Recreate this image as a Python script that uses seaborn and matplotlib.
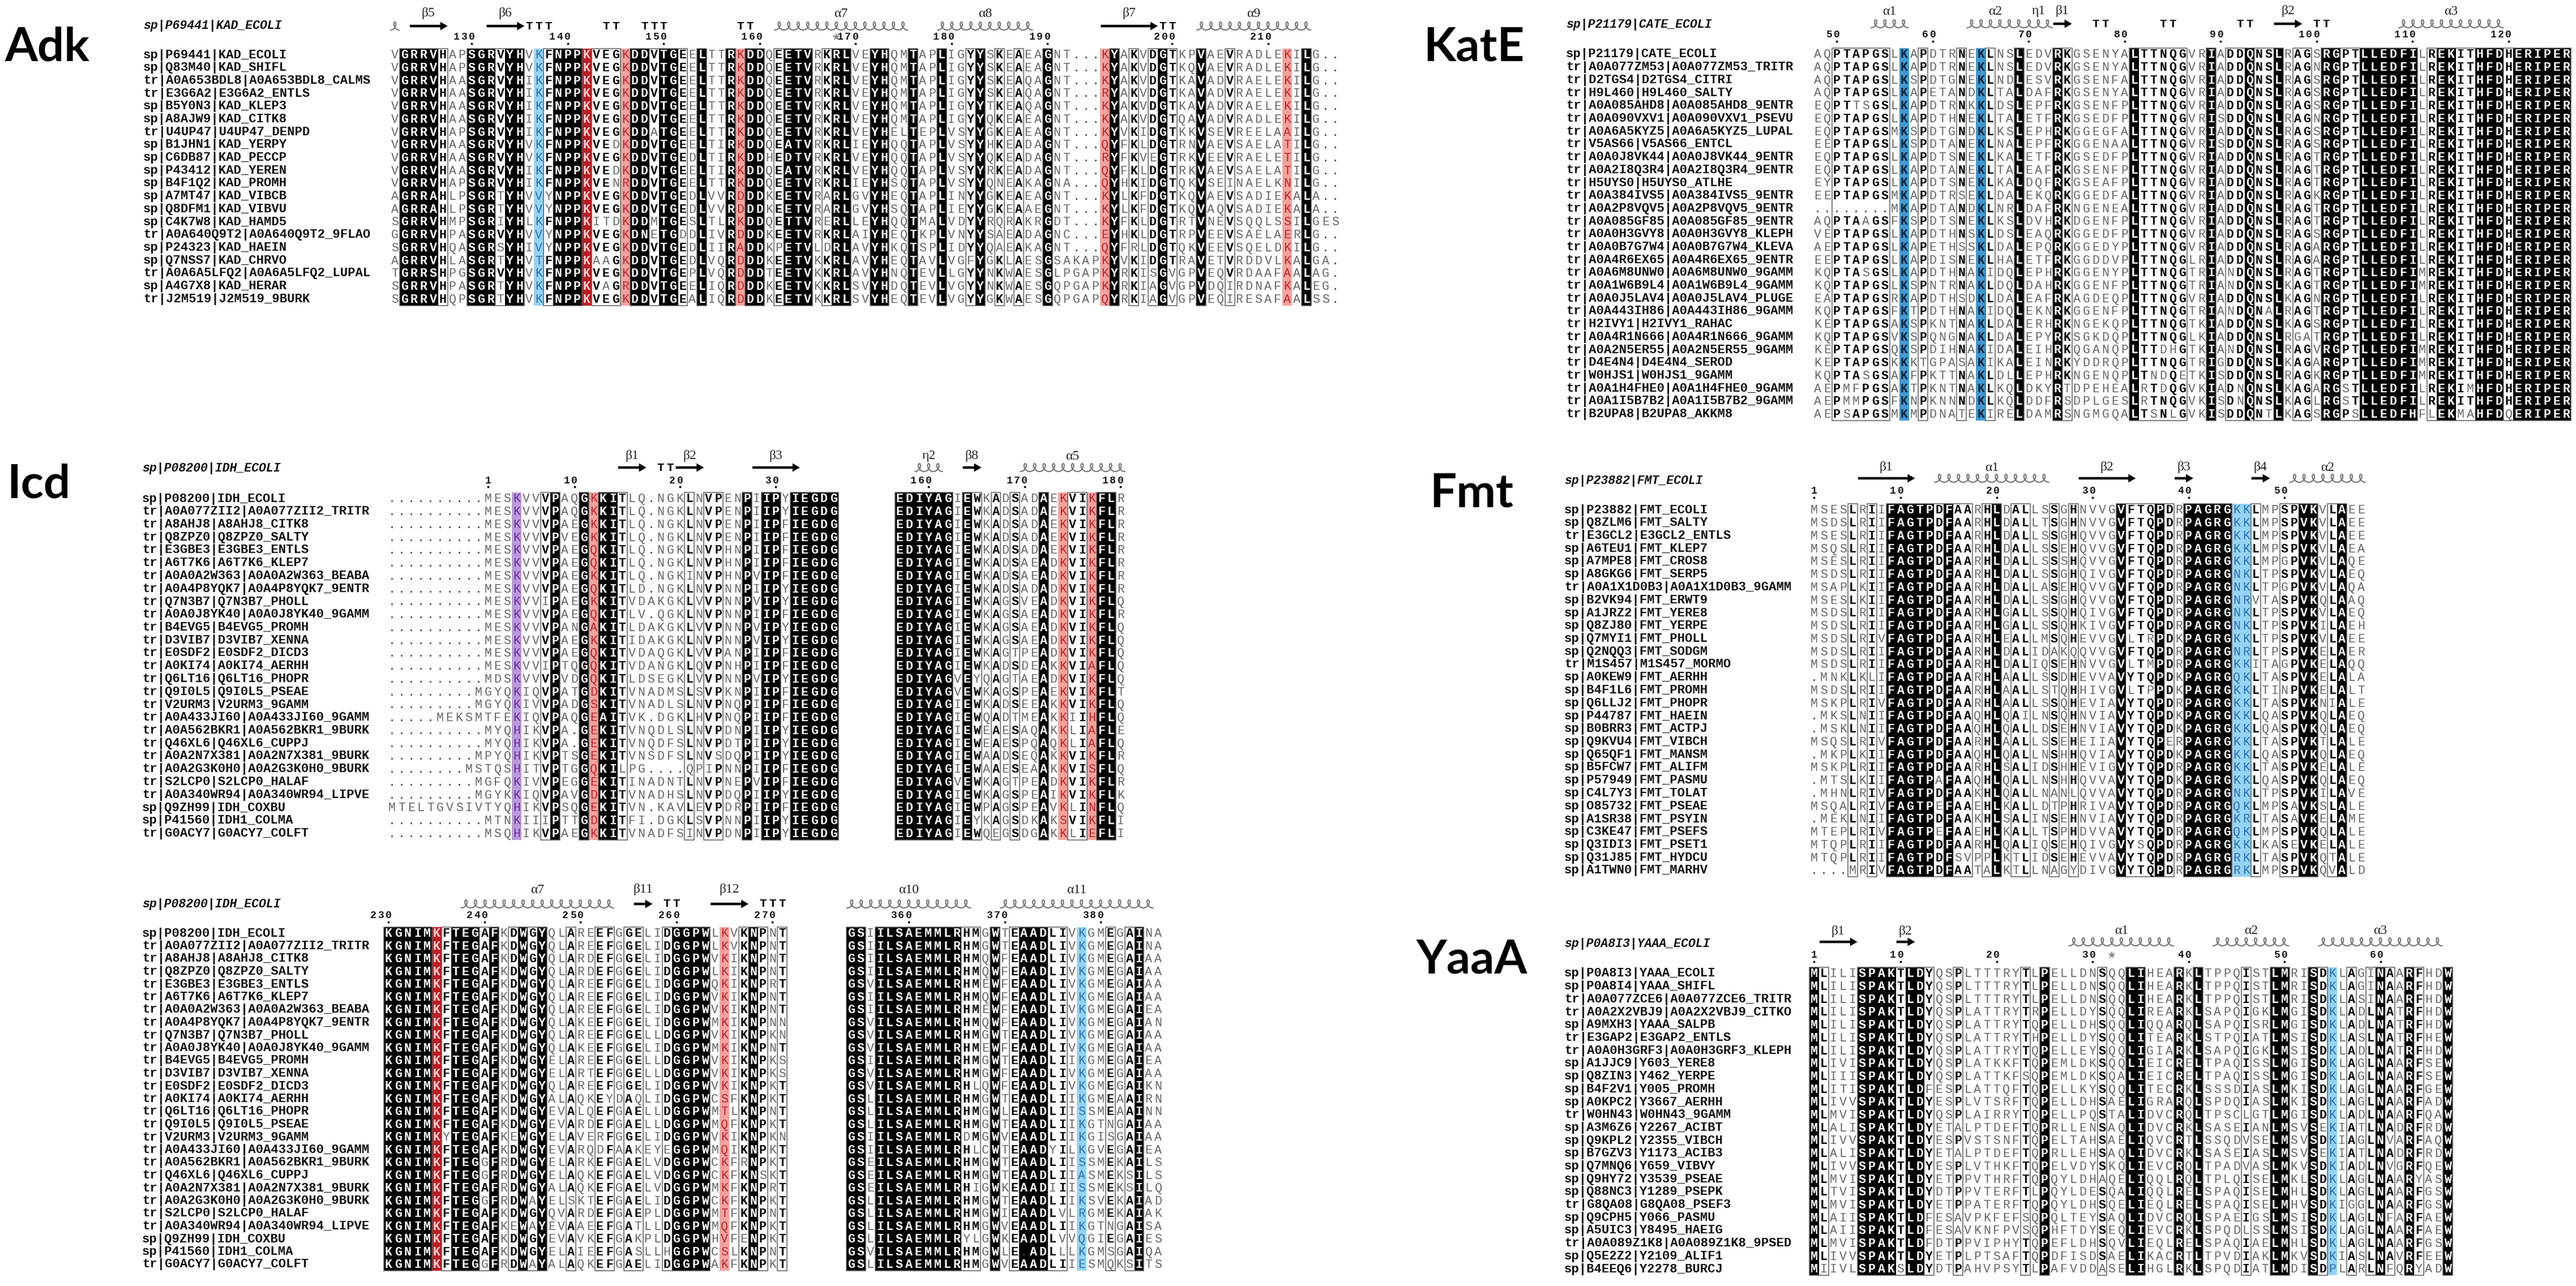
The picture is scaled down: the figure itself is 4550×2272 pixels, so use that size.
import numpy as np
import pandas as pd
import matplotlib
matplotlib.use("Agg")
import matplotlib.pyplot as plt
import seaborn as sns
from matplotlib.colors import ListedColormap
from matplotlib.patches import Rectangle, FancyArrow
from collections import Counter

# =========================== DATA ===========================
# ---- Adk ----
ADK_NAMES = ["sp|P69441|KAD_ECOLI", "sp|Q83M40|KAD_SHIFL", "tr|A0A653BDL8|A0A653BDL8_CALMS",
             "tr|E3G6A2|E3G6A2_ENTLS", "sp|B5Y0N3|KAD_KLEP3", "sp|A8AJW9|KAD_CITK8",
             "tr|U4UP47|U4UP47_DENPD", "sp|B1JHN1|KAD_YERPY", "sp|C6DB87|KAD_PECCP",
             "sp|P43412|KAD_YEREN", "sp|B4F1Q2|KAD_PROMH", "sp|A7MT47|KAD_VIBCB",
             "sp|Q8DFM1|KAD_VIBVU", "sp|C4K7W8|KAD_HAMD5", "tr|A0A640Q9T2|A0A640Q9T2_9FLAO",
             "sp|P24323|KAD_HAEIN", "sp|Q7NSS7|KAD_CHRVO", "tr|A0A6A5LFQ2|A0A6A5LFQ2_LUPAL",
             "sp|A4G7X8|KAD_HERAR", "tr|J2M519|J2M519_9BURK"]
ADK_SEQ_A = ["VGRRVHAPSGRVYHVKFNPPKVEGKDD", "VGRRVHAPSGRVYHVKFNPPKVEGKDD", "VGRRVHAASGRVYHIKFNPPKVEGKDD",
             "VGRRVHAASGRVYHIKFNPPKVEGKDD", "VGRRVHAASGRVYHIKFNPPKVEGKDD", "VGRRVHAASGRVYHIKFNPPKVEGKDD",
             "VGRRVHAPSGRVYHIKFNPPKVEGKDD", "VGRRVHAASGRVYHVKFNPPKVEDKDD", "VGRRVHAASGRVYHVKFNPPKVEGKDD",
             "VGRRVHAASGRVYHIKFNPPKVEDKDD", "VGRRVHAPSGRVYHIKFNPPKVENRDD", "AGRRAHLPSGRTYHVVYNPPKVEGKDD",
             "AGRRAHLPSGRTYHVVYNPPKVEGKDD", "SGRRVHMPSGRIYHLKFNPPKITDKDD", "GGRRVHPASGRVYHVVYNPPKVEGKDN",
             "SGRRVHQASGRSYHIVYNPPKVEGKDD", "AGRRVHLASGRTYHVTFNPPKAAGKDD", "TGRRSHPGSGRVYHVKFNPPKVEGKDD",
             "SGRRVHPASGRTYHVKFNPPKVAGRDD", "SGRRVHQPSGRTYHVKFNPPKVEGKDD"]
ADK_SEQ_B = ["VTGEELTTRKDDQEETVRKRLVEYHQMTAPLIGYYSKEAEAGNT...KYAKVDGTKPVAEVRADL",
             "VTGEELTTRKDDQEETVRKRLVEYHQMTAPLIGYYSKEAEAGNT...KYAKVDGTKQVAEVRADL",
             "VTGEELTTRKDDQEETVRKRLVEYHQMTAPLIGYYSKEAQAGNT...KYAKVDGTKAVADVRAEL",
             "VTGEELTTRKDDQEETVRKRLVEYHQMTAPLIGYYSKEAQAGNT...RYAKVDGTKAVADVRAEL",
             "VTGEELTTRKDDQEETVRKRLVEYHQMTAPLIGYYTKEAQAGNT...KYAKVDGTKAVADVRAEL",
             "VTGEELTTRKDDQEETVRKRLVEYHQMTAPLIGYYQKEAEAGNT...KYAKVDGTQAVADVRADL",
             "ATGEELTTRKDDQEETVRKRLVEYHELTEPLVSYYGKEAEAGNT...KYVKIDGTKKVSEVREEL",
             "VTGEELTIRKDDQEATVRKRLIEYHQQTAPLVSYYHKEADAGNT...QYFKLDGTRNVAEVSAEL",
             "VTGEDLTIRKDDHEDTVRKRLVEYHQQTAPLVSYYQKEADAGNT...RYFKVEGTRKVEEVRAEL",
             "VTGEELTIRKDDQEATVRKRLVEYHQQTAPLVSYYRKEADAGNT...QYFKLDGTRKVAEVSAEL",
             "VTGEELTTRKDDQEETVRKRLIEYHSQTAPLVSYYQNEAKAGNA...QYHKIDGTQKVSEINAEL",
             "VTGEDLVVRDDDKEETVRARLGVYHEQTAPLINYYGKEAEAGNT...KYLKFDGTKQVAEVSADI",
             "VTGEDLVVRDDDKEETVRARLGVYHSQTAPLIEYYGKEAAEGNT...KYLKFDGTKQVAQVSADI",
             "MTGESLTLRKDDQETTVRERLLEYHQQTMALVDYYRQRAKRGDT...KYFKLDGTRTVNEVSQQL",
             "ETGDDLIVRDDDKEETVRKRLAIYHEQTKPLVNYYSAEADAGNC...EYHKLDGTRPVEEVSAEL",
             "VTGEDLIIRADDKPETVLDRLAVYHKQTSPLIDYYQAEAKAGNT...QYFRLDGTQKVEEVSQEL",
             "VTGEDLVQRDDDKEETVKKRLAVYHEQTAVLVGFYGKLAESGSAKAPKYVKIDGTRAVETVRDDV",
             "VTGEPLVQRDDDTEETVKKRLAVYHNQTEVLLGYYNKWAESGLPGAPKYRKISGVGPVEQVRDAA",
             "VTGEELIQRDDDKEETVKKRLSVYHDQTEVLVGYYNKWAESGQPGAPKYRKIAGVGPVDQIRDNA",
             "VTGEALIQRDDDKEETVKKRLSVYHEQTEVLVGYYGKWAESGQPGAPQYRKIAGVGPVEQIRESA"]
ADK_SEQ_C = ["EKILG..", "EKILG..", "EKILG..", "EKILG..", "EKILG..", "EKILG..", "AAILG..",
             "ATILG..", "ETILG..", "ATILG..", "KNILG..", "EKALA..", "EKALA..", "SSILGES",
             "AERLG..", "DKILG..", "LKALGA.", "FAALAG.", "FKALEG.", "FAALSS."]
ADK_CLASS = ("n" "KKKK" "b" "nn" "KKK" "b" "KK" "n" "c" "b" "KKK" "R" "bbb" "r" "KK" "b" "KK" "b" "n"
             "K" "nn" "K" "r" "KK" "n" "b" "KKK" "n" "b" "KK" "nn" "KK" "nn" "K" "nn" "K" "nn" "b" "K"
             "n" "b" "n" "b" "nn" "K" "nnnnn" "r" "K" "n" "b" "n" "b" "K" "b" "nn" "K" "nn" "b"
             "nnnnn" "r" "n" "K" "nnn")
ADK_START = 122
ADK_SS = [("H", 0, 0, ""), ("E", 2, 5, "β5"), ("E", 10, 13, "β6"), ("T", 14, 16, ""),
          ("T", 22, 23, ""), ("T", 26, 28, ""), ("T", 36, 37, ""), ("H", 40, 53, "α7"),
          ("H", 57, 66, "α8"), ("E", 74, 79, "β7"), ("T", 80, 81, ""), ("H", 84, 95, "α9")]
ADK_STARS = [46]

# ---- KatE ----
KATE_NAMES = ["sp|P21179|CATE_ECOLI", "tr|A0A077ZM53|A0A077ZM53_TRITR", "tr|D2TGS4|D2TGS4_CITRI",
              "tr|H9L460|H9L460_SALTY", "tr|A0A085AHD8|A0A085AHD8_9ENTR", "tr|A0A090VXV1|A0A090VXV1_PSEVU",
              "tr|A0A6A5KYZ5|A0A6A5KYZ5_LUPAL", "tr|V5AS66|V5AS66_ENTCL", "tr|A0A0J8VK44|A0A0J8VK44_9ENTR",
              "tr|A0A2I8Q3R4|A0A2I8Q3R4_9ENTR", "tr|H5UYS0|H5UYS0_ATLHE", "tr|A0A384IVS5|A0A384IVS5_9ENTR",
              "tr|A0A2P8VQV5|A0A2P8VQV5_9ENTR", "tr|A0A085GF85|A0A085GF85_9ENTR", "tr|A0A0H3GVY8|A0A0H3GVY8_KLEPH",
              "tr|A0A0B7G7W4|A0A0B7G7W4_KLEVA", "tr|A0A4R6EX65|A0A4R6EX65_9ENTR", "tr|A0A6M8UNW0|A0A6M8UNW0_9GAMM",
              "tr|A0A1W6B9L4|A0A1W6B9L4_9GAMM", "tr|A0A0J5LAV4|A0A0J5LAV4_PLUGE", "tr|A0A443IH86|A0A443IH86_9GAMM",
              "tr|H2IVY1|H2IVY1_RAHAC", "tr|A0A4R1N666|A0A4R1N666_9GAMM", "tr|A0A2N5ER55|A0A2N5ER55_9GAMM",
              "tr|D4E4N4|D4E4N4_SEROD", "tr|W0HJS1|W0HJS1_9GAMM", "tr|A0A1H4FHE0|A0A1H4FHE0_9GAMM",
              "tr|A0A1I5B7B2|A0A1I5B7B2_9GAMM", "tr|B2UPA8|B2UPA8_AKKM8"]
KATE_SEQ = [
    "AQPTAPGSLKAPDTRNEKLNSLEDVRKGSENYALTTNQGVRIADDQNSLRAGSRGPTLLEDFILREKITHFDHERIPER",
    "AQPTAPGSLKAPDTRNEKLNSLEDVRKGSENYALTTNQGVRIADDQNSLRAGNRGPTLLEDFILREKITHFDHERIPER",
    "AQPTAPGSLKSPDTGNEKLNDLESVRKGSENFALTTNQGVRIADDQNSLRAGSRGPTLLEDFILREKITHFDHERIPER",
    "AQPTAPGSLKAPETANDKLTALDAFRKGSENYALTTNQGVRIADDQNSLRAGSRGPTLLEDFILREKITHFDHERIPER",
    "EQPTTSGSLKAPDTRNKKLDSLEPFRKGSENFPLTTNQGVRIADDQNSLRAGSRGPTLLEDFILREKITHFDHERIPER",
    "EQPTAPGSLKAPDTHNEKLTALETFRKGSEDFPLTTNQGVRISDDQNSLRAGNRGPTLLEDFILREKITHFDHERIPER",
    "EQPTAPGSMKSPDTGNDKLKSLEPHRKGGEGFALTTNQGVRIADDQNSLRAGSRGPTLLEDFILREKITHFDHERIPER",
    "EEPTAPGSLKSPDTANEKLNALEPFRKGGENAALTTNQGVRISDDQNSLRAGSRGPTLLEDFILREKITHFDHERIPER",
    "EQPTAPGSLKAPDTSNEKLKALETFRKGSEDFPLTTNQGVRIADDQNSLRAGTRGPTLLEDFILREKITHFDHERIPER",
    "EQPTAPGSLKAPDTANEKLTALEAFRKGSENFPLTTNQGVRIADDQNSLRAGTRGPTLLEDFILREKITHFDHERIPER",
    "EYPTAPGSLKAPDTSNEKLKALDQFRKGSEAFPLTTNQGVRIADDQNSLRAGTRGPTLLEDFILREKITHFDHERIPER",
    "EEPTAPGSMKAPDTRSEKLDALEKQRKGGEDFALTTNQGVRIADDQNSLRAGKRGPTLLEDFILREKITHFDHERIPER",
    "........MKAPDTANDKLNRLDAFRKNGENEALTTNQGVRIADDQNSLRAGTRGPTLLEDFILREKITHFDHERIPER",
    "AQPTAAGSFKSPDTSNEKLKSLDVHRKDGENFPLTTNQGVRIADDQNSLRAGTRGPTLLEDFILREKITHFDHERIPER",
    "VEPTAPGSLKAPDTHNSKLDSLEAQRKGGEDFPLTTNQGVRIADDQNSLRAGSRGPTLLEDFILREKITHFDHERIPER",
    "AEPTAPGSLKAPETHSSKLDALEPQRKGGEDYPLTTNQGVRIADDQNSLRAGARGPTLLEDFILREKITHFDHERIPER",
    "EEPTAPGSLKAPDISNEKLHALETFRKGGDDVPLTTNQGLRIADDQNSLRAGARGPTLLEDFILREKITHFDHERIPER",
    "KQPTASGSLKAPDTHNAKIDQLEPHRKGGENYPLTTNQGTRIANDQNSLRAGTRGPTLLEDFIMREKITHFDHERIPER",
    "KQPTAPGSLKSPNTRNAKLDQLDAHRKGGENFPLTTNQGTRIANDQNSLKAGTRGPTLLEDFIMREKITHFDHERIPER",
    "EAPTAPGSRKAPDTHSDKLDALEAFRKAGDEQPLTTNQGVRIADDQNSLKAGNRGPTLLEDFILREKITHFDHERIPER",
    "KQPTAPGSFKTPDTHNAKIDQLEKNRKGGENFPLTTNQGTRIANDQNALRAGTRGPTLLEDFILREKITHFDHERIPER",
    "KEPTAPGSAKSPKNTNAKLDALERHRKNGEKQPLTTNQGTKIADDQNSLKAGSRGPTLLEDFILREKITHFDHERIPER",
    "KQPTAPGSVKSPQNGNAKLDALEPYRKSGKDQPLTTNQGLKIADDQNSLRGATRGPTLLEDFILREKITHFDHERIPER",
    "KEPTAPGSQKSPDIHNAKIDALEIHRKQGANQPLTTDHGTKIANDQNSLRAGVRGPTLLEDFIMREKITHFDHERIPER",
    "KEPTAPGSKKKTGPASAKIKALEINRKYDDRQPLTTNQGTRIGDDQNSLKAGARGPTLLEDFIMREKITHFDHERIPER",
    "KQPTASGSAKFPKTTNAKLDLLEPHRKNGENQPLTNDQETKISDDQNSLRAGKRGPTLLEDFIMREKITHFDHERIPER",
    "AEPMFPGSAKTPKNTNAKLKQLDKYRTDPEHEALRTDQGVKIADNQNSLKAGARGSTLLEDFILREKIMHFDHERIPER",
    "AEPMMPGSFKNPKNNNDKLKQLDDFRSDPLGESLRTNQGVKISDNQNSLKAGLRGSTLLEDFILREKITHFDHERIPER",
    "AEPSAPGSMKMPDNATEKIRELDAMRSNGMGQALTSNLGVKISDDQNTLKAGSRGPSLLEDFHFLEKMAHFDQERIPER"]
KATE_CLASS = ("nn" "bbbb" "bb" "n" "C" "n" "b" "nnn" "b" "n" "C" "b" "nn" "K" "nnn" "K" "b" "nnnnnn"
              "K" "bbbbb" "nn" "K" "n" "bb" "K" "bb" "K" "n" "bb" "n" "KK" "bb" "KKKKK" "K" "n" "b"
              "KK" "bb" "KKK" "b" "KKKKKK")
KATE_START = 48
KATE_SS = [("H", 6, 9, "α1"), ("H", 16, 21, "α2"), ("H", 22, 24, "η1"), ("E", 25, 26, "β1"),
           ("T", 29, 30, ""), ("T", 36, 37, ""), ("T", 44, 45, ""), ("E", 48, 50, "β2"),
           ("T", 52, 53, ""), ("H", 61, 71, "α3")]

# ---- Icd ----
ICD_NAMES = ["sp|P08200|IDH_ECOLI", "tr|A0A077ZII2|A0A077ZII2_TRITR", "tr|A8AHJ8|A8AHJ8_CITK8",
             "tr|Q8ZPZ0|Q8ZPZ0_SALTY", "tr|E3GBE3|E3GBE3_ENTLS", "tr|A6T7K6|A6T7K6_KLEP7",
             "tr|A0A0A2W363|A0A0A2W363_BEABA", "tr|A0A4P8YQK7|A0A4P8YQK7_9ENTR", "tr|Q7N3B7|Q7N3B7_PHOLL",
             "tr|A0A0J8YK40|A0A0J8YK40_9GAMM", "tr|B4EVG5|B4EVG5_PROMH", "tr|D3VIB7|D3VIB7_XENNA",
             "tr|E0SDF2|E0SDF2_DICD3", "tr|A0KI74|A0KI74_AERHH", "tr|Q6LT16|Q6LT16_PHOPR",
             "tr|Q9I0L5|Q9I0L5_PSEAE", "tr|V2URM3|V2URM3_9GAMM", "tr|A0A433JI60|A0A433JI60_9GAMM",
             "tr|A0A562BKR1|A0A562BKR1_9BURK", "tr|Q46XL6|Q46XL6_CUPPJ", "tr|A0A2N7X381|A0A2N7X381_9BURK",
             "tr|A0A2G3K0H0|A0A2G3K0H0_9BURK", "tr|S2LCP0|S2LCP0_HALAF", "tr|A0A340WR94|A0A340WR94_LIPVE",
             "sp|Q9ZH99|IDH_COXBU", "sp|P41560|IDH1_COLMA", "tr|G0ACY7|G0ACY7_COLFT"]
ICD_T1_SEQ = [
    "..........MESKVVVPAQGKKITLQ.NGKLNVPENPIIPYIEGDG",
    "..........MESKVVVPAQGKKITLQ.NGKLNVPENPIIPYIEGDG",
    "..........MESKVVVPAEGKKITLQ.NGKLNVPENPIIPFIEGDG",
    "..........MESKVVVPVEGKKITLQ.NGKLNVPENPIIPFIEGDG",
    "..........MESKVVVPAEGQKITLQ.NGKLNVPHNPIIPFIEGDG",
    "..........MESKVVVPAEGQKITLQ.NGKLNVPHNPIIPFIEGDG",
    "..........MESKVVVPAEGKKITLQ.NGKINVPHNPVIPFIEGDG",
    "..........MESKVVVPAEGQKITLD.NGKLNVPNNPIIPYIEGDG",
    "..........MESKVVIPAEGKKITVDAKGKLVVPNNPVIPYIEGDG",
    "..........MESKVVVPAEGQKITLV.QGKLNVPNNPIIPFIEGDG",
    "..........MESKVVVPANGAKITLDAKGKLVVPNNPVIPYIEGDG",
    "..........MESKVVVPAEGKKITIDAKGKLNVPNNPVIPYIEGDG",
    "..........MESKVVVPAEGQKITVDAQGKLVVPANPIIPFIEGDG",
    "..........MESKVVIPTQGQKITVDANGKLQVPNHPIIPFIEGDG",
    "..........MDSKVVVPVDGQKITLDSEGKLVVPNNPVIPYIEGDG",
    ".........MGYQKIQVPATGDKITVNADMSLSVPKNPIIPFIEGDG",
    ".........MGYQKIVVPADGSKITVNADLSLNVPNQPIIPFIEGDG",
    ".....MEKSMTFEKIQVPAQGEAITVK.DGKLHVPNQPIIPFIEGDG",
    "..........MYQHIKVPA.GEKITVNQDLSLNVPDNPIIPYIEGDG",
    "..........MYQHIKVPA.GEKITVNQDFSLNVPDTPIIPYIEGDG",
    ".........MPYQHIKVPTSGEKITVNSDFSLNVSDQPIIPYIEGDG",
    "........MSTQSHITVPTGGQKILPG....QPIPNNPIIPFIEGDG",
    ".........MGFQKIVVPEGGEKITINADNTLNVPNEPVIPFIEGDG",
    ".........MGYKKIQVPAVGDKITVNADHSLNVPDQPIIPYIEGDG",
    "MTELTGVSIVTYQHIKVPSQGEKITVN.KAVLEVPDRPIIPFIEGDG",
    "..........MTNKIIIPTTGDKITFI.DGKLSVPNNPIIPYIEGDG",
    "..........MSQHIKVPAEGKKITVNADFSINVPDNPIIPYIEGDG"]
ICD_T1_CLASS = ("nnnnnnnnnnnnn" "p" "nnb" "K" "nn" "K" "r" "KK" "b" "nnnnnn" "b" "n" "bb" "nn" "K" "n"
                "KK" "n" "KKKKK")
ICD_T1_START = 1
ICD_T1_SS = [("E", 24, 26, "β1"), ("T", 28, 29, ""), ("E", 30, 32, "β2"), ("E", 38, 42, "β3")]
ICD_T2_SEQ = [
    "EDIYAGIEWKADSADAEKVIKFLR", "EDIYAGIEWKADSADAEKVIKFLR", "EDIYAGIEWKADSADAEKVIKFLR",
    "EDIYAGIEWKADSADAEKVIKFLR", "EDIYAGIEWKADSADAEKVIKFLR", "EDIYAGIEWKADSAEADKVIKFLR",
    "EDIYAGIEWKADSAEADKVIKFLR", "EDIYAGIEWKADSADADKVIKFLR", "EDIYAGIEWKAGSVEADKVIKFLQ",
    "EDIYAGIEWKAGSAEADKVIKFLR", "EDIYAGIEWKAGSAEADKVIKFLQ", "EDIYAGIEWKAGSAEADKVIKFLQ",
    "EDIYAGIEWKAGTPEADKVIKFLQ", "EDIYAGIEWKADSDEAKKVIAFLQ", "EDIYAGVEYQAGTAEADKVIKFLQ",
    "EDIYAGVEWKAGSPEAEKVIKFLT", "EDIYAGIEWKADSEEAKKVIKFLQ", "EDIYAGIEWQADTMEAKKIIHFLQ",
    "EDIYAGIEWEAESAQAKKLIAFLE", "EDIYAGIEWEAESPQAQKLIAFLQ", "EDIYAGIEWAADSEQAKKVIKFLR",
    "EDIYAGIEWAAESEAAKKVISFLQ", "EDIYAGVEWKAGTPEADKVIKFLR", "EDIYAGIEWKAGSPEAIKVIKFLK",
    "EDIYAGIEWPAGSPEAVKLINFLQ", "EDIYAGIEYKAGSDKAKSVIKFLI", "EDIYAGIEWQEGSDGAKKLIEFLI"]
ICD_T2_CLASS = "KKKKKK" "n" "K" "b" "n" "b" "n" "b" "nn" "K" "n" "r" "bb" "r" "KK" "n"
ICD_T2_START = 157
ICD_T2_SS = [("H", 2, 4, "η2"), ("E", 7, 8, "β8"), ("H", 13, 23, "α5")]

ICD_B1_SEQ_A = [
    "KGNIMKFTEGAFKDWGYQLAREEFGGEL", "KGNIMKFTEGAFKDWGYQLAREEFGGEL", "KGNIMKFTEGAFKDWGYQLARDEFGGEL",
    "KGNIMKFTEGAFKDWGYQLARDEFGGEL", "KGNIMKFTEGAFKDWGYQLAREEFGGEL", "KGNIMKFTEGAFKDWGYQLAREEFGGEL",
    "KGNIMKFTEGAFKDWGYQLAREEFGGEL", "KGNIMKFTEGAFKDWGYQLAKEEFGGEL", "KGNIMKFTEGAFKDWGYQLAREEFGGEL",
    "KGNIMKFTEGAFKDWGYQLAKEEFGGEL", "KGNIMKFTEGAFKDWGYELAREEFGGEL", "KGNIMKFTEGAFKDWGYELARTEFGGEL",
    "KGNIMKFTEGAFKDWGYQLAREEFGGEL", "KGNIMKFTEGAFKDWGYALAQKEYDAQL", "KGNIMKFTEGAFKDWGYEVALQEFGAEL",
    "KGNIMKFTEGAFKDWGYEVARDEFGAEL", "KGNIMKYTEGAFKEWGYELAVERFGGEL", "KGNIMKFTEGAFKDWGYEVARQDFAAKE",
    "KGNIMKFTEGGFRDWGYELARKEFGAEL", "KGNIMKFTEGGFRDWGYELAQKEFGAEL", "KGNIMKFTEGAFRDWGYALAQKEFGAEL",
    "KGNIMKFTEGGFRDWAYELSKTEFGAEL", "KGNIMKFTEGAFKDWGYQVARDEFGAEP", "KGNIMKFTEGAFKEWAYEVAAEEFGATL",
    "KGNIMKFTEGAFKDWGYEVAVKEFGAKP", "KGNIMKFTEGAFKDWGYELAIEEFGASL", "KGNIMKFTEGGFRDWAYALAQKEFGAEL"]
ICD_B1_SEQ_B = [
    "IDGGPWLKVKNPNT", "IDGGPWLKVKNPNT", "IDGGPWVKIKNPNT", "IDGGPWLKIKNPNT", "IDGGPWQKIKNPRT",
    "IDGGPWVKIKNPNT", "IDGGPWVKIKNPNT", "IDGGPWMKIKNPNN", "LDGGPWVKIKNPKN", "IDGGPWMKIKNPNT",
    "LDGGPWVKIKNPKS", "LDGGPWVKIKNPKS", "IDGGPWVKIKNPKT", "IDGGPWCSFKNPKT", "LDGGPWMTLKNPNT",
    "LDGGPWMQFKNPKT", "IDGGPWVKIKNPKN", "YEGGPWMQIKNPKT", "VDGGPWCKFRNPKT", "VDGGPWCKFKNSKT",
    "VDGGPWMKFKNPRT", "IDGGPWCKFKNPKT", "LDGGPWMTFKNPNT", "LDGGPWMQFKNPKT", "LDGGPWHVFENPKT",
    "LHGGPWCSLKNPNT", "IDGGPWAKFKNPKT"]
ICD_B1_CLASS = ("KKKKK" "R" "b" "KKK" "b" "K" "n" "b" "K" "b" "K" "nn" "b" "nn" "bb" "n" "bb" "nn" "b"
                "KKKK" "n" "r" "n" "b" "K" "b" "n" "b")
ICD_B1_START = 230
ICD_B1_SS = [("H", 8, 23, "α7"), ("E", 26, 27, "β11"), ("T", 29, 30, ""), ("E", 34, 37, "β12"),
             ("T", 39, 41, "")]
ICD_B2_SEQ = [
    "GSIILSAEMMLRHMGWTEAADLIVKGMEGAINA", "GSIILSAEMMLRHMGWTEAADLIVKGMEGAINA",
    "GSIILSAEMMLRHMQWFEAADLIVKGMEGAIAA", "GSIILSAEMMLRHMQWFEAADLIVKGMEGAIAA",
    "GSVILSAEMMLRHMEWFEAADLIVKGMEGAIAA", "GSIILSAEMMLRHMQWFEAADLIVKGMEGAIAA",
    "GSIILSAEMMLRHMEWFEAADLIVKGMEGAIEA", "GSVILSAEMMLRHMQWFEAADLIVKGMEGAIAN",
    "GSVILSAEMMLRHMGWTEAADLIVKGMEGAIAA", "GSVILSAEMMLRHMEWFEAADLIVKGMEGAIAA",
    "GSIILSAEMMLRHMGWTEAADLIIKGMEGAIEA", "GSVILSAEMMLRHMGWFEAADLIVKGMEGAIAA",
    "GSVILSAEMMLRHLQWFEAADLIVKGMEGAIKN", "GSLILSAEMMLRHMGWTEAADLIIKGMEAAIRN",
    "GSLILSAEMMLRHMGWLEAADLIISSMEAAINN", "GSLILSAEMMLRHMGWTEAADLIIKGTNGAIAA",
    "GSIILSAEMMLRDMGWVEAADLIIKGISGAIAA", "GSIILSAEMMLRHLCWTEAADYILKGVEGAIEA",
    "GSEILSAEMMLRHMGWTEAADLIISSMEKAILS", "GSEILSAEMMLRHMGWTEAADLIIASMEKSILS",
    "GSEILSAEMMLRHIGWKEAADIIISSMEKSILQ", "GSLILSAEMMLRHMGWTEAADLIIKSVEKAIAD",
    "GSLILSAEMMLRHMGWIEAADLVLRGMEKAIAK", "GSLILSAEMMLRHMGWVEAADLIIKGTNGAISA",
    "GSLILSAEMMLRYLGWKEAADLVVQGIEGAIES", "GSVILSAEMMLRHMGWLE.ADLLLKGMSGAIQA",
    "GSLILSAEMMLRHMGWVEAADLIIESMQKSITS"]
ICD_B2_CLASS = "KK" "n" "KKKKKKKKK" "bb" "n" "K" "n" "b" "KKK" "bb" "n" "c" "nn" "b" "n" "b" "K" "nn"
ICD_B2_START = 354
ICD_B2_SS = [("H", 0, 12, "α10"), ("H", 16, 31, "α11")]

# ---- Fmt ----
FMT_NAMES = ["sp|P23882|FMT_ECOLI", "sp|Q8ZLM6|FMT_SALTY", "tr|E3GCL2|E3GCL2_ENTLS", "sp|A6TEU1|FMT_KLEP7",
             "sp|A7MPE8|FMT_CROS8", "sp|A8GKG6|FMT_SERP5", "tr|A0A1X1D0B3|A0A1X1D0B3_9GAMM",
             "sp|B2VK94|FMT_ERWT9", "sp|A1JRZ2|FMT_YERE8", "sp|Q8ZJ80|FMT_YERPE", "sp|Q7MYI1|FMT_PHOLL",
             "sp|Q2NQQ3|FMT_SODGM", "tr|M1S457|M1S457_MORMO", "sp|A0KEW9|FMT_AERHH", "sp|B4F1L6|FMT_PROMH",
             "sp|Q6LLJ2|FMT_PHOPR", "sp|P44787|FMT_HAEIN", "sp|B0BRR3|FMT_ACTPJ", "sp|Q9KVU4|FMT_VIBCH",
             "sp|Q65QF1|FMT_MANSM", "sp|B5FCW7|FMT_ALIFM", "sp|P57949|FMT_PASMU", "sp|C4L7Y3|FMT_TOLAT",
             "sp|O85732|FMT_PSEAE", "sp|A1SR38|FMT_PSYIN", "sp|C3KE47|FMT_PSEFS", "sp|Q3IDI3|FMT_PSET1",
             "sp|Q31J85|FMT_HYDCU", "sp|A1TWN0|FMT_MARHV"]
FMT_SEQ = [
    "MSESLRIIFAGTPDFAARHLDALLSSGHNVVGVFTQPDRPAGRGKKLMPSPVKVLAEE",
    "MSDSLRIIFAGTPDFAARHLDALLTSGHNVVGVFTQPDRPAGRGKKLMPSPVKVLAEE",
    "MSESLRIIFAGTPDFAARHLDALLSSGHQVVGVFTQPDRPAGRGKKLMPSPVKVLAEE",
    "MSQSLRIIFAGTPDFAARHLDALLSSEHQVVGVFTQPDRPAGRGKKLMPSPVKVLAEA",
    "MSESLRIIFAGTPDFAARHLDALLSSSHQVVGVFTQPDRPAGRGKKLMPGPVKVLAQE",
    "MSDSLRIIFAGTPDFAARHLDALLSSGHQIVGVFTQPDRPAGRGNKLTPSPVKVLAEQ",
    "MSAPLKIIFAGTPDFAARHLDALLASEHQVVGVFTQPDRPAGRGNKLTPGPVKVLAQA",
    "MSESLKIIFAGTPDFAARHLDALLSSGHQVVGVFTQPDRPAGRGNRVTASPVKQLAAQ",
    "MSDSLRIIFAGTPDFAARHLGALLSSQHQIVGVFTQPDRPAGRGNKLTPSPVKVLAEQ",
    "MSDSLRIIFAGTPDFAARHLGALLSSQHKIVGVFTQPDRPAGRGNKLTPSPVKILAEH",
    "MSDSLRIVFAGTPDFAARHLEALLMSQHEVVGVLTRPDKPAGRGKKLTPSPVKVLAEE",
    "MSDSLRIIFAGTPDFAARHLDALIDAKQQVVGVFTQPDRPAGRGNRLTPSPVKELAER",
    "MSDSLRIIFAGTPDFAARHLDALIQSEHNVVGVLTMPDRPAGRGKKITAGPVKELAQQ",
    ".MNKLKLIFAGTPDFAARHLAALLSSDHEVVAVYTQPDKPAGRGQKLTASPVKELALA",
    "MSDSLRIIFAGTPDFAARHLAALLSTQHHIVGVLTPPDKPAGRGKKLTINPVKELALT",
    "MSKPLRIVFAGTPDFAARHLAALLSSQHEVIAVYTQPDRPAGRGKKLTASPVKNIALE",
    ".MKSLNIIFAGTPDFAAQHLQAILNSQHNVIAVYTQPDKPAGRGKKLQASPVKQLAEQ",
    ".MSKLNIIFAGTPDFAAQHLQALLDSEHNVIAVYTQPDKPAGRGKKLQASPVKQLAEQ",
    "MSQSLRIVFAGTPDFAARHLAALLSSEHEIIAVYTQPERPAGRGKKLTASPVKTLALE",
    ".MKPLKIIFAGTPDFAAQHLQALLNSHHQVIAVYTQPDKPAGRGKKLQASPVKQLAEQ",
    "MSKPLRIIFAGTPDFAARHLSALIDSHHEVIGVYTQPDRPAGRGKKLTASPVKELALE",
    ".MTSLKIIFAGTPAFAAQHLQALLNSHHQVVAVYTQPDKPAGRGKKLQASPVKQLAEQ",
    ".MHNLRIVFAGTPDFAAKHLQALLNANLQVVAVYTQPDRPAGRGNKLTPSPVKILAVE",
    "MSQALRIVFAGTPEFAAEHLKALLDTPHRIVAVYTQPDRPAGRGQKLMPSAVKSLALE",
    ".MEKLNIIFAGTPDFAAKHLSALINSEHNVIAVYTQPDRPAGRGKRLTASAVKELAME",
    "MTEPLRIVFAGTPEFAAEHLKALLTSPHDVVAVYTQPDRPAGRGQKLMPSPVKQLALE",
    "MTQPLRIIFAGTPDFAARHLQALIQSEHQIVGVYSQPDRPAGRGKKLKASEVKELALE",
    "MTQPLRIIFAGTPDFSVPPLKTLIDSEHEVVAVYTQPDRPAGRGRKLTASPVKQTALE",
    "....MRIVFAGTPDFAATALKTLLNAGYDIVGVYTQPDRPAGRGRKLMPSPVKQVALD"]
FMT_CLASS = ("nnnn" "b" "n" "b" "n" "KKKKK" "b" "K" "bb" "n" "b" "K" "n" "bb" "nn" "b" "n" "b" "nnnn"
             "K" "b" "bb" "K" "b" "n" "KKKKK" "c" "c" "b" "nn" "bb" "KK" "n" "b" "K" "nn")
FMT_START = 1
FMT_SS = [("E", 5, 10, "β1"), ("H", 13, 24, "α1"), ("E", 28, 33, "β2"), ("E", 38, 39, "β3"),
          ("E", 46, 47, "β4"), ("H", 50, 57, "α2")]

# ---- YaaA ----
YAAA_NAMES = ["sp|P0A8I3|YAAA_ECOLI", "sp|P0A8I4|YAAA_SHIFL", "tr|A0A077ZCE6|A0A077ZCE6_TRITR",
              "tr|A0A2X2VBJ9|A0A2X2VBJ9_CITKO", "sp|A9MXH3|YAAA_SALPB", "tr|E3GAP2|E3GAP2_ENTLS",
              "tr|A0A0H3GRF3|A0A0H3GRF3_KLEPH", "sp|A1JJC9|Y603_YERE8", "sp|Q8ZIN3|Y462_YERPE",
              "sp|B4F2V1|Y005_PROMH", "sp|A0KPC2|Y3667_AERHH", "tr|W0HN43|W0HN43_9GAMM",
              "sp|A3M6Z6|Y2267_ACIBT", "sp|Q9KPL2|Y2355_VIBCH", "sp|B7GZV3|Y1173_ACIB3",
              "sp|Q7MNQ6|Y659_VIBVY", "sp|Q9HY72|Y3539_PSEAE", "sp|Q88NC3|Y1289_PSEPK",
              "tr|G8QA08|G8QA08_PSEF3", "sp|Q9CPH5|Y066_PASMU", "sp|A5UIC3|Y8495_HAEIG",
              "tr|A0A089Z1K8|A0A089Z1K8_9PSED", "sp|Q5E2Z2|Y2109_ALIF1", "sp|B4EEQ6|Y2278_BURCJ"]
YAAA_SEQ_A = ["MLILISPAKTLDYQSPLTTTRYTLPELLDNSQQ", "MLILISPAKTLDYQSPLTTTRYTLPELLDNSQQ",
              "MLILISPAKTLDYQSPLTTTRYTLPELLDNSQQ", "MLILISPAKTLDYQSPLATTRYTRPELLDYSQQ",
              "MLILISPAKTLDYQSPLATTRYTQPELLDHSQQ", "MLILISPAKTLDYQSPLATTRYTHPELLDYSQQ",
              "MLILISPAKTLDYQSPLATTRYTQPELLEYSQQ", "MLIVISPAKTLDYQSPLATKKFTQPEMLDKSQQ",
              "MLIIISPAKTLDYQSPLATTKFSQPEMLDKSQA", "MLITISPAKTLDFESPLATTQFTQPELLKYSQQ",
              "MLIVVSPAKTLDYESPLVTSRFTQPELLDHSAE", "MLMVISPAKTLDYQSPLAIRRYTQPELLPQSTA",
              "MLALISPAKTLDYETALPTDEFTQPRLLENSAQ", "MLIVVSPAKTLDYESPVSTSNFTQPELTAHSAE",
              "MLALISPAKTLDYETALPTDEFTQPRLLEHSAQ", "MLIVVSPAKTLDYESPLVTHKFTQPELVDYSKQ",
              "MLMVISPAKTLDYETPPVTHRFTQPQYLDHAQE", "MLTVISPAKTLDYDTPPVTERFTLPQYLDESQA",
              "MLMVISPAKTLDYETPPATERFTQPQYLDHSQE", "MLAIISPAKTLDFESAVPKFEFSQPQLTEYSAQ",
              "MLAIISPAKTLDFESAVKNFPVSQPHFTDYSEQ", "MLMVISPAKTLDFDTPPVIPHYTQPEFLDHSQV",
              "MLIVVSPAKTLDYETPLPTSAFTQPDFISDSAE", "MIIVLSPAKSLDYDTPAHVPSYTLPAFVDDASE"]
YAAA_SEQ_B = ["LIHEARKLTPPQISTLMRISDKLAGINAARFHDW", "LIHEARKLTPPQISTLMRISDKLAGINAARFHDW",
              "LIHEARKLTPPQISTLMRISDKLASINAARFHDW", "LIREARKLSAPQIGKLMGISDKLADLNATRFHDW",
              "LIQQARQLSAPQISRLMGISDKLADLNATRFHDW", "LITEARKLSTPQIATLMSISDKLASLNATRFHEW",
              "LIGIARKLSAPQIGKLMSISDKLADLNATRFHDW", "LIEICRELTPAQISSLMGISDKLAGLNAARFSEW",
              "LIEICRELTPAQISSLMGISDKLAGLNAARFSEW", "LITECRKLSSSDIASLMKISDKLAGLNAARFGEW",
              "LIGRARQLSPDQIASLMKISDKLAGLNAARFADW", "LIDVCRQLTPSCLGTLMGISDKLADLNAARFQAW",
              "LIDVCRKLSASEIANLMSVSEKIATLNADRFRDW", "LIQVCRTLSSQDVSELMSVSDKIAGLNVARFAQW",
              "LIDVCRKLSASEIASLMSVSEKIATLNADRFRDW", "LIEVCRQLTPADVASLMKVSDKIADLNVGRFQEW",
              "LIQQLRQLTPLQISELMKLSDKLAGLNAARYASW", "LIQQLRELSPAQISELMHLSDKLAGLNAARFGSW",
              "LIEQLRELSPAQISELMHVSDKIGGLNAARFGSW", "LIDVCRQLSPAEIGSLMSISDKLAGLNFARFAEW",
              "LIEVCRKLSPQDLSSLMSISDKLAGLNAARFAEW", "LIEQLRELSPAQIAELMHLSDKLAGLNAARFGSW",
              "LIKACRTLTPVDIAKLMKVSDKIASLNAVRFEEW", "LIHGLRKLSPQDIATLMDISDPLARLNFQRYADW"]
YAAA_CLASS = ("K" "b" "nnn" "KKKK" "b" "KK" "b" "nn" "b" "nnnnnn" "b" "n" "K" "nnnnn" "b" "nn" "KK"
              "nnn" "K" "n" "K" "nnnn" "b" "nn" "KK" "nn" "K" "b" "c" "n" "b" "n" "b" "K" "b" "n" "K"
              "b" "nn" "K")
YAAA_START = 1
YAAA_SS = [("E", 1, 4, "β1"), ("E", 9, 10, "β2"), ("H", 27, 37, "α1"), ("H", 42, 49, "α2"),
           ("H", 53, 65, "α3")]
YAAA_STARS = [31]

PANEL_LABELS = ["Adk", "KatE", "Icd", "Fmt", "YaaA"]

# =========================== STYLE / LAYOUT ===========================
W, H = 4550, 2272
CW = 16.95
MONO = "Liberation Mono"
SERIF = ["Liberation Serif", "DejaVu Serif"]
CODE = {"n": 0, "b": 0, "K": 1, "r": 2, "R": 3, "c": 4, "C": 5, "p": 6}
PALETTE = ["#ffffff", "#000000", "#f5a29e", "#be1b22", "#95d3f2", "#3f9ad3", "#b99bd9"]
CMAP = ListedColormap(PALETTE)
GRAY = "#666666"

fig = plt.figure(figsize=(W / 100, H / 100), dpi=100, facecolor="white")
ov = fig.add_axes([0, 0, 1, 1])
ov.set_xlim(0, W)
ov.set_ylim(H, 0)
ov.axis("off")


def fit(rows, n):
    return [r.ljust(n, ".")[:n] for r in rows]


def helix(xa, xb, yc):
    n = max(1, int(round((xb - xa) / CW)))
    per = (xb - xa) / n
    t = np.linspace(0, 2 * np.pi * n, 90 * n)
    x = xa + per * t / (2 * np.pi) + 0.33 * per * np.sin(t)
    y = yc + 7 - 14 * (1 - np.cos(t)) / 2
    ov.plot(x, y, color="#7a7a7a", lw=1.6, solid_capstyle="round")


def draw_names(names, x, y0, pitch, header_y):
    ov.text(x, header_y, names[0], family=MONO, weight="bold", style="italic",
            fontsize=15.5, va="center", ha="left", color="#111111")
    for i, nm in enumerate(names):
        ov.text(x, y0 + i * pitch, nm, family=MONO, weight="bold", fontsize=16,
                va="center", ha="left", color="#111111")


def draw_block(x0, y0, pitch, seqs, cls, start, ss, ss_y, lab_y, num_y, stars=()):
    ncols, nrows = len(cls), len(seqs)
    seqs = fit(seqs, ncols)
    mat = pd.DataFrame([[CODE[c] for c in cls] for _ in range(nrows)])
    top = y0 - pitch / 2
    ax = fig.add_axes([x0 / W, 1 - (top + nrows * pitch) / H, ncols * CW / W, nrows * pitch / H])
    sns.heatmap(mat, ax=ax, cmap=CMAP, vmin=-0.5, vmax=len(PALETTE) - 0.5, cbar=False,
                xticklabels=False, yticklabels=False, linewidths=0)
    ax.set_xlim(0, ncols)
    ax.set_ylim(nrows, 0)
    ax.set_xticks([])
    ax.set_yticks([])
    ax.set_xlabel("")
    ax.set_ylabel("")
    for sp in ax.spines.values():
        sp.set_visible(False)
    # frames around similar / identical column runs
    j = 0
    while j < ncols:
        if cls[j] in "bK":
            k = j
            while k + 1 < ncols and cls[k + 1] in "bK":
                k += 1
            ax.add_patch(Rectangle((j, 0), k - j + 1, nrows, fill=False, ec="#5c5c5c",
                                   lw=1.1, clip_on=False, zorder=2.5))
            j = k + 1
        else:
            j += 1
    # residues
    for j in range(ncols):
        col = [s[j] for s in seqs]
        cnt = Counter(ch for ch in col if ch != ".")
        dom = {ch for ch, v in cnt.items() if v >= 0.3 * nrows}
        if cnt:
            dom.add(cnt.most_common(1)[0][0])
        c = cls[j]
        for i, ch in enumerate(col):
            if ch == ".":
                color, wt = "#444444", "normal"
            elif c == "K":
                color, wt = "white", "bold"
            elif c == "b":
                color, wt = ("black", "bold") if ch in dom else (GRAY, "normal")
            elif c == "r":
                color, wt = "#b8262a", "normal"
            elif c == "R":
                color, wt = "#f8cccc", "bold"
            elif c == "c":
                color, wt = "#2a72b5", "normal"
            elif c == "C":
                color, wt = "#0d2438", "bold"
            elif c == "p":
                color, wt = "#6b2fa0", "normal"
            else:
                color, wt = GRAY, "normal"
            ax.text(j + 0.5, i + 0.78, ch, ha="center", va="baseline", fontsize=15.5,
                    family=MONO, weight=wt, color=color, zorder=3)
    # numbering from the reference sequence
    r = start - 1
    for j, ch in enumerate(seqs[0]):
        if ch == ".":
            continue
        r += 1
        if r == 1 or r % 10 == 0:
            cx = x0 + (j + 0.5) * CW
            digits = str(r)
            for k, d in enumerate(digits):
                ov.text(cx - (len(digits) - 1 - k) * 13.5, num_y, d, family=MONO, weight="bold",
                        fontsize=13, ha="center", va="center", color="#111111")
            ov.plot([cx], [num_y + 11], marker="o", ms=1.8, color="black")
    for sc in stars:
        ov.text(x0 + (sc + 0.5) * CW, num_y, "★", family="DejaVu Sans", fontsize=13,
                ha="center", va="center", color="#8a8a8a")
    # secondary structure
    for kind, a, b, lab in ss:
        xa, xb = x0 + a * CW, x0 + (b + 1) * CW
        if kind == "E":
            ov.add_patch(FancyArrow(xa + 1, ss_y, xb - xa - 1, 0, width=4.5, head_width=15,
                                    head_length=13, length_includes_head=True, color="black", lw=0))
        elif kind == "H":
            helix(xa + 1, xb - 1, ss_y)
        elif kind == "T":
            for cc in range(a, b + 1):
                ov.text(x0 + (cc + 0.5) * CW, ss_y, "T", family=MONO, weight="bold", fontsize=15,
                        ha="center", va="center", color="black")
        if lab:
            ov.text((xa + xb) / 2, lab_y, lab, family=SERIF, fontsize=17, ha="center",
                    va="center", color="#222222")


def panel_label(text, x, baseline):
    ov.text(x, baseline, text, family=["Lato", "DejaVu Sans"], weight="bold", fontsize=60,
            ha="left", va="baseline", color="black")


# =========================== DRAW ===========================
# Adk
panel_label(PANEL_LABELS[0], 8, 107)
draw_names(ADK_NAMES, 253, 97, 22.7, 46)
ADK_SEQ = [a + b + c for a, b, c in zip(ADK_SEQ_A, ADK_SEQ_B, ADK_SEQ_C)]
draw_block(689, 97, 22.7, ADK_SEQ, ADK_CLASS, ADK_START, ADK_SS, 46, 24, 66, ADK_STARS)

# KatE
panel_label(PANEL_LABELS[1], 2514, 107)
draw_names(KATE_NAMES, 2766, 96, 22.7, 43)
draw_block(3202, 96, 22.7, KATE_SEQ, KATE_CLASS, KATE_START, KATE_SS, 42, 20, 62)

# Icd (top)
panel_label(PANEL_LABELS[2], 12, 879)
draw_names(ICD_NAMES, 251, 881, 22.75, 828)
draw_block(684, 881, 22.75, ICD_T1_SEQ, ICD_T1_CLASS, ICD_T1_START, ICD_T1_SS, 826, 806, 849)
draw_block(1581, 881, 22.75, ICD_T2_SEQ, ICD_T2_CLASS, ICD_T2_START, ICD_T2_SS, 826, 806, 849)

# Icd (bottom)
draw_names(ICD_NAMES, 251, 1649, 22.5, 1597)
ICD_B1_SEQ = [a + b for a, b in zip(ICD_B1_SEQ_A, ICD_B1_SEQ_B)]
draw_block(678, 1649, 22.5, ICD_B1_SEQ, ICD_B1_CLASS, ICD_B1_START, ICD_B1_SS, 1597, 1572, 1618)
draw_block(1495, 1649, 22.5, ICD_B2_SEQ, ICD_B2_CLASS, ICD_B2_START, ICD_B2_SS, 1597, 1572, 1618)

# Fmt
panel_label(PANEL_LABELS[3], 2525, 895)
draw_names(FMT_NAMES, 2763, 901, 22.75, 849)
draw_block(3196, 901, 22.75, FMT_SEQ, FMT_CLASS, FMT_START, FMT_SS, 845, 826, 868)

# YaaA
panel_label(PANEL_LABELS[4], 2502, 1720)
draw_names(YAAA_NAMES, 2763, 1720, 22.7, 1667)
YAAA_SEQ = [a + b for a, b in zip(YAAA_SEQ_A, YAAA_SEQ_B)]
draw_block(3196, 1720, 22.7, YAAA_SEQ, YAAA_CLASS, YAAA_START, YAAA_SS, 1664, 1645, 1688, YAAA_STARS)

fig.savefig("out.png", dpi=100, facecolor="white")
